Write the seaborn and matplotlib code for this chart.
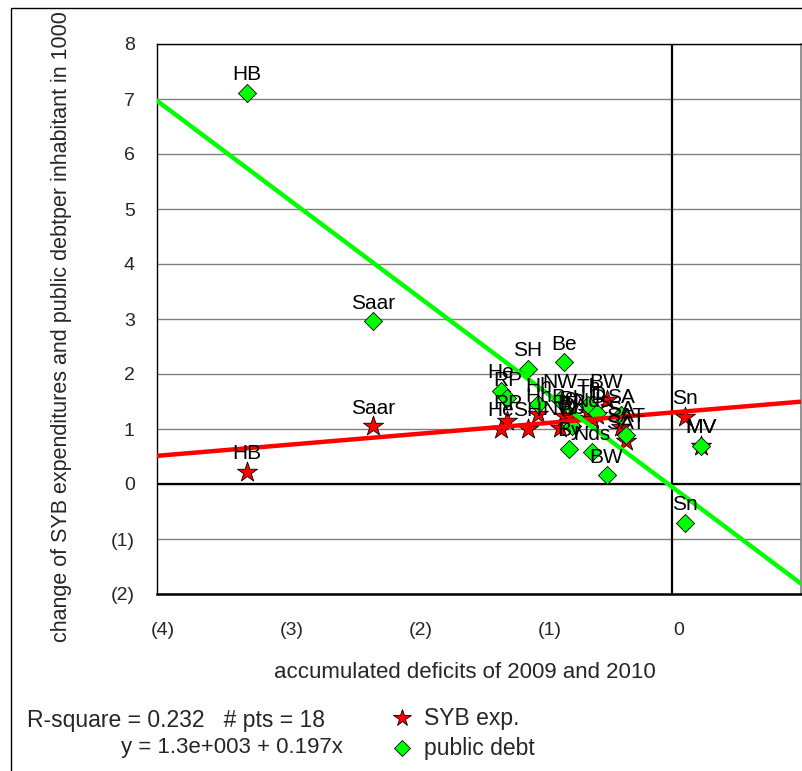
import numpy as np
import pandas as pd
import matplotlib
matplotlib.use("Agg")
import matplotlib.pyplot as plt
import matplotlib.transforms as mtransforms
from matplotlib.lines import Line2D
from matplotlib.patches import Rectangle
from matplotlib.ticker import FuncFormatter
import seaborn as sns

# States, accumulated deficits 2009/2010 and changes per inhabitant (in 1000)
states = ["HB", "Saar", "He", "RP", "SH", "Hh", "NW", "Be", "By", "Bb",
          "Th", "D", "Nds", "BW", "SA", "SAT", "Sn", "MV"]
deficit = [-3.30, -2.32, -1.33, -1.28, -1.12, -1.04, -0.87, -0.84, -0.80, -0.78,
           -0.65, -0.58, -0.62, -0.51, -0.40, -0.36, 0.10, 0.22]
syb_exp = [0.22, 1.05, 1.00, 1.14, 1.00, 1.27, 1.02, 1.24, 1.12, 1.20,
           1.31, 1.25, 1.18, 1.52, 1.03, 0.78, 1.22, 0.70]
public_debt = [7.11, 2.96, 1.69, 1.56, 2.10, 1.45, 1.52, 2.21, 0.64, 1.05,
               1.43, 1.30, 0.58, 0.16, 1.25, 0.89, -0.71, 0.69]

# Linear trend coefficients (intercept, slope)
syb_trend = [1.3, 0.197]
debt_trend = [-0.055, -1.756]

x_range = [-4, 1]
y_ticks = list(range(-2, 9))
x_ticks = list(range(-4, 1))

df = pd.DataFrame({"state": states, "deficit": deficit,
                   "syb": syb_exp, "debt": public_debt})

sns.set_style("white")
plt.rcParams["font.family"] = ["Liberation Sans", "DejaVu Sans"]

W, H = 803, 771
fig = plt.figure(figsize=(W / 100, H / 100), dpi=100)
ax = fig.add_axes([157 / W, 1 - 594 / H, (801 - 157) / W, (594 - 44) / H])

# outer frame of the chart area
fig.patches.append(Rectangle((11 / W, -0.1), 1.2, 1.1 - 8 / H,
                             transform=fig.transFigure, fill=False,
                             edgecolor="black", lw=1.0, zorder=0))

red = "#FF0000"
green = "#00FF00"

sns.scatterplot(data=df, x="deficit", y="syb", ax=ax, marker="*", s=230,
                color=red, edgecolor="black", linewidth=0.6, zorder=4,
                legend=False)
sns.scatterplot(data=df, x="deficit", y="debt", ax=ax, marker="D", s=85,
                color=green, edgecolor="black", linewidth=0.6, zorder=4,
                legend=False)

xs = np.array(x_range, dtype=float)
sns.lineplot(x=xs, y=syb_trend[0] + syb_trend[1] * xs, ax=ax, color=red,
             lw=3.2, zorder=5)
sns.lineplot(x=xs, y=debt_trend[0] + debt_trend[1] * xs, ax=ax, color=green,
             lw=3.2, zorder=5)

for _, r in df.iterrows():
    for col in ("syb", "debt"):
        ax.annotate(r["state"], (r["deficit"], r[col]), xytext=(0, 13),
                    textcoords="offset points", ha="center", va="center",
                    fontsize=15, color="black", zorder=6)

ax.set_xlim(*x_range)
ax.set_ylim(y_ticks[0], y_ticks[-1])
ax.set_xticks(x_ticks)
ax.set_yticks(y_ticks)

fmt = FuncFormatter(lambda v, p: f"({abs(int(round(v)))})" if v < 0 else f"{int(round(v))}")
ax.xaxis.set_major_formatter(fmt)
ax.yaxis.set_major_formatter(fmt)
ax.tick_params(axis="both", length=0, labelsize=14)
ax.tick_params(axis="x", pad=20)
ax.tick_params(axis="y", pad=16)
shift = mtransforms.ScaledTranslation(0.06, 0, fig.dpi_scale_trans)
for lbl in ax.get_xticklabels():
    lbl.set_transform(lbl.get_transform() + shift)

ax.yaxis.grid(True, color="#808080", lw=1.0)
ax.xaxis.grid(False)
ax.set_axisbelow(True)
ax.axhline(0, color="black", lw=1.6, zorder=2)
ax.axvline(0, color="black", lw=1.6, zorder=2)

for side in ("top", "left"):
    ax.spines[side].set_color("black")
    ax.spines[side].set_linewidth(1.0)
ax.spines["bottom"].set_color("black")
ax.spines["bottom"].set_linewidth(1.8)
ax.spines["right"].set_color("#808080")
ax.spines["right"].set_linewidth(1.2)

ax.set_xlabel("")
ax.set_ylabel("")
fig.text(465 / W, 1 - 672 / H, "accumulated deficits of 2009 and 2010",
         ha="center", va="center", fontsize=16)
fig.text(62 / W, 1 - 327 / H,
         "change of SYB expenditures and public debtper inhabitant in 1000",
         rotation=90, ha="center", va="center", fontsize=15.5)

# regression statistics
fig.text(27 / W, 1 - 720 / H, "R-square = 0.232   # pts = 18",
         ha="left", va="center", fontsize=16.5)
fig.text(343 / W, 1 - 748 / H, "y = 1.3e+003 + 0.197x",
         ha="right", va="center", fontsize=16)

# legend
fig.add_artist(Line2D([402 / W], [1 - 718 / H], marker="*", markersize=13,
                      color=red, markeredgecolor="black", markeredgewidth=0.6,
                      transform=fig.transFigure, linestyle="none"))
fig.add_artist(Line2D([402 / W], [1 - 748 / H], marker="D", markersize=8,
                      color=green, markeredgecolor="black", markeredgewidth=0.6,
                      transform=fig.transFigure, linestyle="none"))
fig.text(424 / W, 1 - 718 / H, "SYB exp.", ha="left", va="center", fontsize=16.5)
fig.text(424 / W, 1 - 748 / H, "public debt", ha="left", va="center", fontsize=16.5)

fig.savefig("out.png", dpi=100)
